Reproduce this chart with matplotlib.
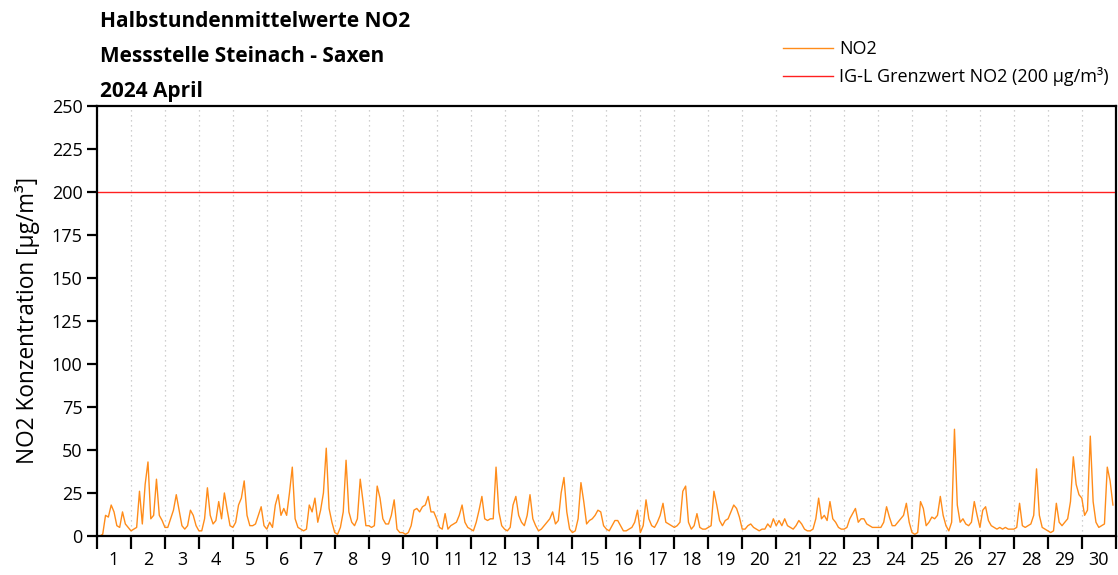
import numpy as np
import matplotlib
matplotlib.use('Agg')
import matplotlib.pyplot as plt

# NO2, 2-hour readings per day (00, 02, ..., 22 h), April 2024, in µg/m³
day01 = [0, 0, 1, 12, 11, 18, 14, 6, 5, 14, 7, 5]
day02 = [3, 4, 5, 26, 7, 30, 43, 10, 12, 33, 12, 9]
day03 = [5, 5, 10, 15, 24, 15, 6, 4, 6, 15, 12, 6]
day04 = [3, 3, 10, 28, 12, 7, 9, 20, 10, 25, 15, 6]
day05 = [5, 8, 18, 22, 32, 12, 6, 6, 7, 12, 17, 6]
day06 = [4, 8, 5, 18, 24, 12, 16, 12, 25, 40, 10, 5]
day07 = [4, 3, 4, 18, 14, 22, 8, 15, 25, 51, 16, 8]
day08 = [2, 1, 5, 14, 44, 14, 8, 6, 10, 33, 20, 6]
day09 = [6, 5, 6, 29, 22, 10, 7, 7, 12, 21, 4, 2]
day10 = [2, 1, 2, 6, 15, 16, 14, 17, 18, 23, 14, 14]
day11 = [10, 5, 4, 13, 4, 6, 7, 8, 12, 18, 8, 5]
day12 = [4, 3, 8, 15, 23, 10, 9, 10, 10, 40, 14, 6]
day13 = [4, 3, 5, 18, 23, 12, 8, 6, 12, 24, 10, 6]
day14 = [3, 4, 6, 8, 10, 14, 7, 9, 25, 34, 14, 4]
day15 = [2, 3, 10, 31, 20, 7, 9, 10, 12, 15, 14, 6]
day16 = [4, 3, 6, 9, 9, 6, 3, 3, 4, 5, 8, 15]
day17 = [2, 6, 21, 10, 6, 5, 8, 12, 19, 8, 7, 6]
day18 = [5, 6, 8, 26, 29, 8, 4, 6, 13, 5, 4, 4]
day19 = [5, 6, 26, 18, 9, 6, 9, 10, 14, 18, 16, 11]
day20 = [4, 4, 6, 7, 5, 4, 3, 4, 4, 7, 5, 10]
day21 = [6, 9, 6, 10, 6, 5, 4, 6, 9, 7, 4, 3]
day22 = [3, 4, 10, 22, 10, 12, 9, 20, 10, 8, 5, 4]
day23 = [4, 5, 10, 13, 16, 8, 10, 10, 7, 6, 5, 5]
day24 = [5, 5, 8, 17, 11, 6, 6, 8, 10, 12, 19, 8]
day25 = [2, 1, 2, 20, 16, 6, 8, 11, 10, 12, 23, 12]
day26 = [6, 3, 8, 62, 18, 8, 10, 7, 6, 8, 20, 12]
day27 = [5, 15, 17, 9, 6, 5, 4, 5, 4, 5, 4, 4]
day28 = [4, 5, 19, 6, 5, 6, 7, 12, 39, 12, 5, 4]
day29 = [3, 2, 3, 19, 8, 6, 8, 10, 20, 46, 30, 24]
day30 = [22, 12, 15, 58, 20, 8, 5, 6, 7, 40, 32, 18]

days = [day01, day02, day03, day04, day05, day06, day07, day08, day09, day10,
        day11, day12, day13, day14, day15, day16, day17, day18, day19, day20,
        day21, day22, day23, day24, day25, day26, day27, day28, day29, day30]
day_labels = [str(d) for d in range(1, 31)]
grenzwert = 200

no2 = np.concatenate(days)
t = np.arange(len(no2)) / 12.0  # time in days since 1 April 00:00

plt.rcParams['font.family'] = ['Open Sans', 'DejaVu Sans']

fig = plt.figure(figsize=(11.18, 5.75), dpi=100)
ax = fig.add_axes([0.0868, 0.0678, 0.9112, 0.7487])

ax.plot(t, no2, color='#ff8c1a', linewidth=1.0, label='NO2')
ax.axhline(grenzwert, color='#ff2020', linewidth=1.0,
           label='IG-L Grenzwert NO2 (200 µg/m³)')

ax.set_xlim(0, 30)
ax.set_ylim(0, 250)
ax.set_yticks(np.arange(0, 251, 25))

# day boundaries as major ticks, day numbers centred on minor ticks
ax.set_xticks(np.arange(0, 31))
ax.set_xticklabels([])
ax.set_xticks(np.arange(0.5, 30), minor=True)
ax.set_xticklabels(day_labels, minor=True)
ax.tick_params(axis='x', which='major', length=9.5, width=1.6, direction='out')
ax.tick_params(axis='x', which='minor', length=0, labelsize=13, pad=11)
ax.tick_params(axis='y', length=7, width=1.6, labelsize=13, direction='out')
ax.xaxis.grid(True, which='major', linestyle=(0, (1, 3)), color='#c0c0c0',
              linewidth=0.9)

for s in ax.spines.values():
    s.set_linewidth(1.6)

ax.set_ylabel('NO2 Konzentration [µg/m³]', fontsize=16.3, labelpad=8)

fig.text(0.089, 0.963, 'Halbstundenmittelwerte NO2', fontsize=15,
         fontweight='bold', va='center')
fig.text(0.089, 0.902, 'Messstelle Steinach - Saxen', fontsize=15,
         fontweight='bold', va='center')
fig.text(0.089, 0.841, '2024 April', fontsize=15,
         fontweight='bold', va='center')

leg = fig.legend(loc='upper right', bbox_to_anchor=(1.006, 0.958),
                 frameon=False, fontsize=13, handlelength=2.8,
                 handletextpad=0.3, labelspacing=0.5)
for h in leg.get_lines():
    h.set_linewidth(1.0)

fig.savefig('out.png', dpi=100)
